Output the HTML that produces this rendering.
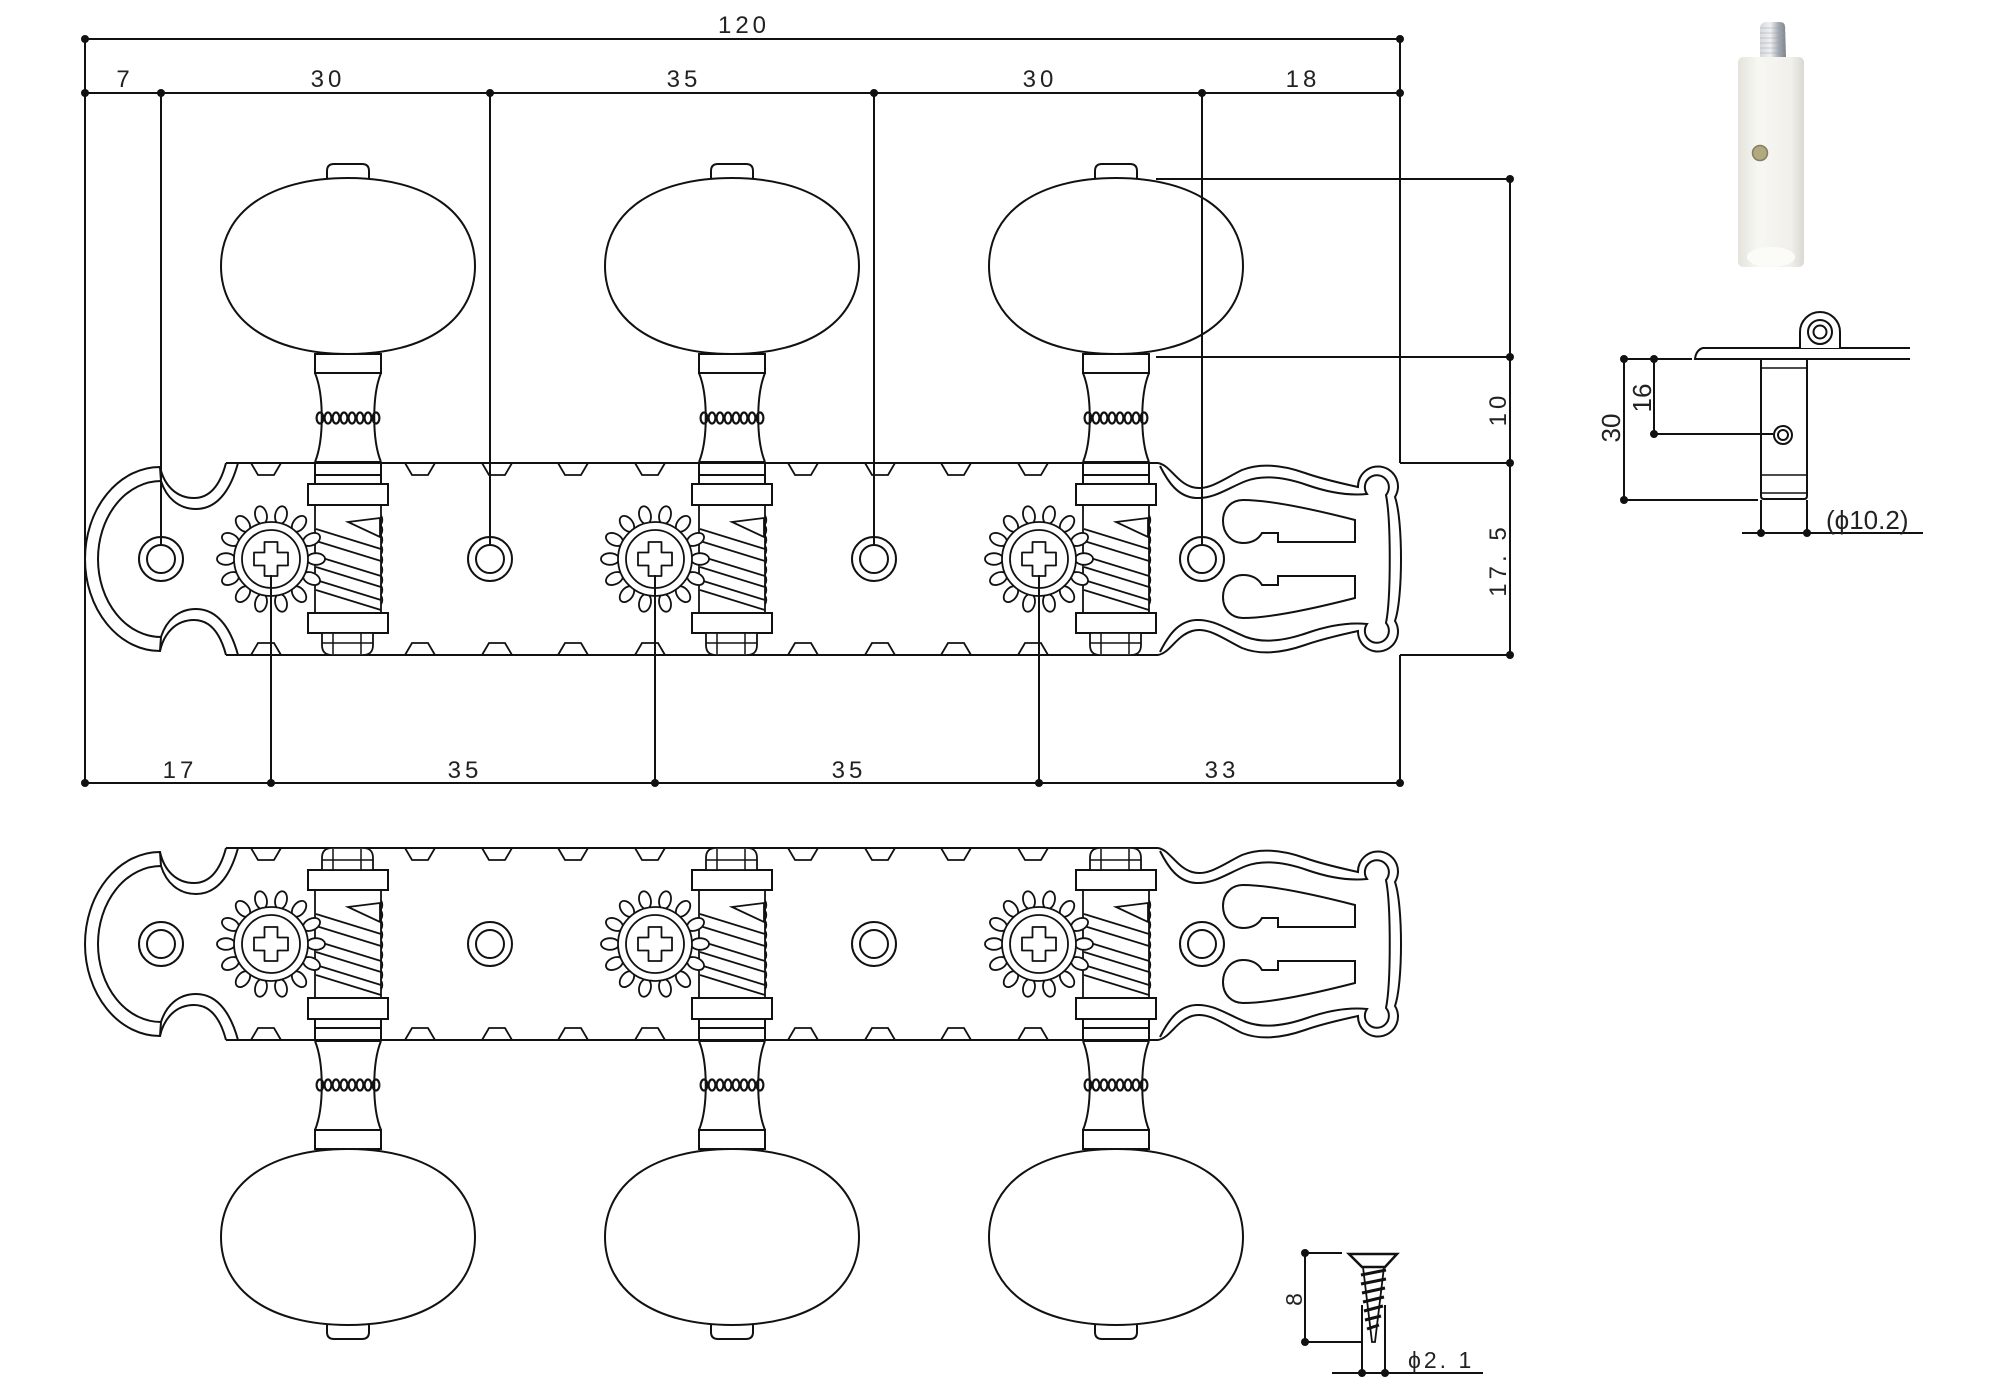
<!DOCTYPE html>
<html><head><meta charset="utf-8"><style>html,body{margin:0;padding:0;background:#fff}svg{display:block}</style></head>
<body>
<svg xmlns="http://www.w3.org/2000/svg" width="2000" height="1400" viewBox="0 0 2000 1400">
<defs>
<linearGradient id="cyl" x1="0" x2="1" y1="0" y2="0"><stop offset="0" stop-color="#e4e3dc"/><stop offset="0.3" stop-color="#f7f7f3"/><stop offset="0.8" stop-color="#f1f0eb"/><stop offset="1" stop-color="#d9d8d1"/></linearGradient>
<linearGradient id="metal" x1="0" x2="1" y1="0" y2="0"><stop offset="0" stop-color="#d5d9dd"/><stop offset="0.4" stop-color="#eef0f2"/><stop offset="0.7" stop-color="#a7adb4"/><stop offset="1" stop-color="#7b828a"/></linearGradient>
<g id="gear" stroke="#111" stroke-width="1.8">
<g fill="#fff">
<ellipse cx="0" cy="-45" rx="5.8" ry="9" transform="rotate(90)"/>
<ellipse cx="0" cy="-45" rx="5.8" ry="9" transform="rotate(115.71)"/>
<ellipse cx="0" cy="-45" rx="5.8" ry="9" transform="rotate(141.43)"/>
<ellipse cx="0" cy="-45" rx="5.8" ry="9" transform="rotate(167.14)"/>
<ellipse cx="0" cy="-45" rx="5.8" ry="9" transform="rotate(192.86)"/>
<ellipse cx="0" cy="-45" rx="5.8" ry="9" transform="rotate(218.57)"/>
<ellipse cx="0" cy="-45" rx="5.8" ry="9" transform="rotate(244.29)"/>
<ellipse cx="0" cy="-45" rx="5.8" ry="9" transform="rotate(270)"/>
<ellipse cx="0" cy="-45" rx="5.8" ry="9" transform="rotate(295.71)"/>
<ellipse cx="0" cy="-45" rx="5.8" ry="9" transform="rotate(321.43)"/>
<ellipse cx="0" cy="-45" rx="5.8" ry="9" transform="rotate(347.14)"/>
<ellipse cx="0" cy="-45" rx="5.8" ry="9" transform="rotate(12.86)"/>
<ellipse cx="0" cy="-45" rx="5.8" ry="9" transform="rotate(38.57)"/>
<ellipse cx="0" cy="-45" rx="5.8" ry="9" transform="rotate(64.29)"/>
</g>
<circle r="37" fill="#fff"/>
<circle r="29" fill="none"/>
<path d="M-6.5,-17 H6.5 V-6.5 H17 V6.5 H6.5 V17 H-6.5 V6.5 H-17 V-6.5 H-6.5 Z" fill="none" stroke-linejoin="round"/>
</g>
<g id="worm" stroke="#111" stroke-width="1.8" fill="none">
<rect x="315" y="505" width="66" height="108" fill="#fff"/>
<path d="M381,515 q3,5 0,10 q3,5 0,10 q3,5 0,10 q3,5 0,10 q3,5 0,10 q3,5 0,10 q3,5 0,10 q3,5 0,10 q3,5 0,10" stroke-width="1.4"/>
<path d="M348,522 L380,518 L380,537 Z"/>
<path d="M316,529 L381,549 M316,541 L381,561 M316,556 L381,576 M316,567 L381,587 M316,580 L381,600 M316,590 L381,610"/>
</g>
<g id="key" stroke="#111" stroke-width="2" fill="none">
<path d="M-21,179 V171 Q-21,164 -14,164 H14 Q21,164 21,171 V179" fill="#fff"/>
<path d="M-127,266 C-127,212 -78,178 0,178 C78,178 127,212 127,266 C127,320 78,354 0,354 C-78,354 -127,320 -127,266 Z" fill="#fff"/>
<rect x="-33" y="354" width="66" height="19" fill="#fff"/>
<path d="M-33,373 C-24,395 -24,440 -33,462 M33,373 C24,395 24,440 33,462"/>
<path d="M-33,462 H33 M-33,462 V484 M33,462 V484 M-33,475 H33"/>
<g stroke-width="2.2">
<ellipse cx="-28" cy="418" rx="3.4" ry="5.5"/><ellipse cx="-20" cy="418" rx="3.4" ry="5.5"/><ellipse cx="-12" cy="418" rx="3.4" ry="5.5"/><ellipse cx="-4" cy="418" rx="3.4" ry="5.5"/><ellipse cx="4" cy="418" rx="3.4" ry="5.5"/><ellipse cx="12" cy="418" rx="3.4" ry="5.5"/><ellipse cx="20" cy="418" rx="3.4" ry="5.5"/><ellipse cx="28" cy="418" rx="3.4" ry="5.5"/>
</g>
<rect x="-40" y="484" width="80" height="21" fill="#fff"/>
<rect x="-40" y="613" width="80" height="20" fill="#fff"/>
<path d="M-26,633 V645 Q-26,655 -16,655 H15 Q25,655 25,645 V633 Z" fill="#fff" stroke-width="1.8"/>
<path d="M-15,633 V654 M13,633 V654 M-26,643 H25" stroke-width="1.5"/>
</g>
<g id="body" stroke="#111" stroke-width="2" fill="none">
<path d="M226,463 H1158 M226,655 H1158"/>
<path d="M226,463 C221,482 212,498 194,498 C176,498 164,485 160,467 A75,92 0 0 0 160,651 C164,633 176,620 194,620 C212,620 221,636 226,655"/>
<path d="M160,467 L161,481 C166,497 178,509 196,509 C220,509 232,485 238,463"/>
<path d="M161,481 A63,78 0 0 0 161,637"/>
<path d="M160,651 L161,637 C166,621 178,609 196,609 C220,609 232,633 238,655"/>
<path d="M1158,463 C1170,465 1176,482 1192,487 C1208,492 1225,478 1242,470 C1262,462 1285,466 1305,473 C1325,480 1345,484 1358,487 A20,20 0 1 1 1395,497 C1403,520 1403,598 1395,621 A20,20 0 1 1 1358,631 C1345,634 1325,638 1305,645 C1285,652 1262,656 1242,648 C1225,640 1208,626 1192,631 C1176,636 1170,653 1158,655"/>
<path d="M1160,466 C1168,482 1178,497 1196,498 C1214,499 1228,488 1246,481 C1265,474 1287,478 1307,485 C1327,492 1347,496 1367,494 A12,12 0 1 1 1386,495 C1391,520 1391,598 1386,623 A12,12 0 1 1 1367,624 C1347,622 1327,626 1307,633 C1287,640 1265,644 1246,637 C1228,630 1214,619 1196,620 C1178,621 1168,636 1160,652"/>
<path d="M1355,520 L1355,542 L1278,542 L1278,533 L1262,533 C1258,540 1251,543 1243,543 C1231,543 1223,533 1223,521 C1223,508 1232,500 1243,500 C1272,500 1320,511 1355,520 Z"/>
<path d="M1355,598 L1355,576 L1278,576 L1278,585 L1262,585 C1258,578 1251,575 1243,575 C1231,575 1223,585 1223,597 C1223,610 1232,618 1243,618 C1272,618 1320,607 1355,598 Z"/>
<path stroke-width="1.8" d="M251,463 L258,475 H274 L281,463 M405,463 L412,475 H428 L435,463 M482,463 L489,475 H505 L512,463 M558,463 L565,475 H581 L588,463 M635,463 L642,475 H658 L665,463 M788,463 L795,475 H811 L818,463 M865,463 L872,475 H888 L895,463 M941,463 L948,475 H964 L971,463 M1018,463 L1025,475 H1041 L1048,463"/>
<path stroke-width="1.8" d="M251,655 L258,643 H274 L281,655 M405,655 L412,643 H428 L435,655 M482,655 L489,643 H505 L512,655 M558,655 L565,643 H581 L588,655 M635,655 L642,643 H658 L665,655 M788,655 L795,643 H811 L818,655 M865,655 L872,643 H888 L895,655 M941,655 L948,643 H964 L971,655 M1018,655 L1025,643 H1041 L1048,655"/>
<circle cx="161" cy="559" r="22"/><circle cx="161" cy="559" r="14"/>
<circle cx="490" cy="559" r="22"/><circle cx="490" cy="559" r="14"/>
<circle cx="874" cy="559" r="22"/><circle cx="874" cy="559" r="14"/>
<circle cx="1202" cy="559" r="22"/><circle cx="1202" cy="559" r="14"/>
</g>
</defs>

<!-- top section -->
<use href="#body"/>
<use href="#worm"/>
<use href="#worm" transform="translate(384,0)"/>
<use href="#worm" transform="translate(768,0)"/>
<use href="#gear" transform="translate(271,559)"/>
<use href="#gear" transform="translate(655,559)"/>
<use href="#gear" transform="translate(1039,559)"/>
<use href="#key" transform="translate(348,0)"/>
<use href="#key" transform="translate(732,0)"/>
<use href="#key" transform="translate(1116,0)"/>

<!-- bottom section -->
<use href="#body" transform="translate(0,385)"/>
<use href="#worm" transform="translate(0,385)"/>
<use href="#worm" transform="translate(384,385)"/>
<use href="#worm" transform="translate(768,385)"/>
<use href="#gear" transform="translate(271,944)"/>
<use href="#gear" transform="translate(655,944)"/>
<use href="#gear" transform="translate(1039,944)"/>
<use href="#key" transform="translate(348,1503) scale(1,-1)"/>
<use href="#key" transform="translate(732,1503) scale(1,-1)"/>
<use href="#key" transform="translate(1116,1503) scale(1,-1)"/>

<!-- dimension lines -->
<g stroke="#111" stroke-width="2" fill="none">
<path d="M85,39 H1400 M85,93 H1400 M85,783 H1400 M85,39 V783 M1400,39 V463 M1400,655 V783"/>
<path d="M161,93 V545 M490,93 V545 M874,93 V545 M1202,93 V545"/>
<path d="M271,575 V783 M655,575 V783 M1039,575 V783"/>
<path d="M1510,179 V655 M1156,179 H1510 M1156,357 H1510 M1400,463 H1510 M1400,655 H1510"/>
</g>
<g fill="#111">
<circle cx="85" cy="39" r="4"/><circle cx="1400" cy="39" r="4"/>
<circle cx="85" cy="93" r="4"/><circle cx="161" cy="93" r="4"/><circle cx="490" cy="93" r="4"/><circle cx="874" cy="93" r="4"/><circle cx="1202" cy="93" r="4"/><circle cx="1400" cy="93" r="4"/>
<circle cx="85" cy="783" r="4"/><circle cx="271" cy="783" r="4"/><circle cx="655" cy="783" r="4"/><circle cx="1039" cy="783" r="4"/><circle cx="1400" cy="783" r="4"/>
<circle cx="1510" cy="179" r="4"/><circle cx="1510" cy="357" r="4"/><circle cx="1510" cy="463" r="4"/><circle cx="1510" cy="655" r="4"/>
</g>
<g font-family="Liberation Sans, sans-serif" font-size="24" letter-spacing="4" fill="#222" text-anchor="middle">
<text x="744" y="33">120</text>
<text x="125" y="87">7</text>
<text x="328" y="87">30</text>
<text x="684" y="87">35</text>
<text x="1040" y="87">30</text>
<text x="1303" y="87">18</text>
<text x="180" y="778">17</text>
<text x="465" y="778">35</text>
<text x="849" y="778">35</text>
<text x="1222" y="778">33</text>
<text transform="translate(1506,409) rotate(-90)">10</text>
<text transform="translate(1506,560) rotate(-90)">17. 5</text>
</g>

<!-- photo -->
<path d="M1760,57 L1760,27 Q1761,22 1766,22 L1780,22 Q1785,22 1785,27 L1786,57 Z" fill="url(#metal)"/>
<path d="M1760,28 H1786 M1760,33 H1786 M1760,38 H1786 M1760,43 H1786 M1760,48 H1786 M1760,53 H1786" stroke="#9aa0a6" stroke-width="0.8" opacity="0.6"/>
<rect x="1738" y="57" width="66" height="210" rx="5" fill="url(#cyl)"/>
<ellipse cx="1771" cy="257" rx="24" ry="10" fill="#fbfbf8"/>
<circle cx="1760" cy="153" r="7.5" fill="#b1a97f" stroke="#857e5f" stroke-width="1.5"/>

<!-- side view -->
<g stroke="#111" stroke-width="2" fill="none">
<path d="M1910,348 H1703 Q1696,350 1695,359 H1910"/>
<path d="M1800,348 V332 A20,20 0 0 1 1840,332 V348" fill="#fff"/>
<circle cx="1820" cy="332" r="12"/><circle cx="1820" cy="332" r="6.5"/>
<path d="M1761,359 V496 Q1761,499 1764,499 H1804 Q1807,499 1807,496 V359"/>
<path d="M1761,368 H1807 M1761,475 H1807 M1761,493 H1807" stroke-width="1.5"/>
<circle cx="1783" cy="435" r="9"/><circle cx="1783" cy="435" r="5"/>
<path d="M1624,359 V500 M1624,359 H1692 M1624,500 H1758 M1654,359 V434 M1654,434 H1773"/>
<path d="M1761,500 V533 M1807,500 V533 M1742,533 H1923"/>
</g>
<g fill="#111">
<circle cx="1624" cy="359" r="4"/><circle cx="1624" cy="500" r="4"/><circle cx="1654" cy="359" r="4"/><circle cx="1654" cy="434" r="4"/><circle cx="1761" cy="533" r="4"/><circle cx="1807" cy="533" r="4"/>
</g>
<g font-family="Liberation Sans, sans-serif" font-size="26" fill="#222">
<text transform="translate(1620,428) rotate(-90)" text-anchor="middle">30</text>
<text transform="translate(1651,398) rotate(-90)" text-anchor="middle">16</text>
<text x="1826" y="529">(ϕ10.2)</text>
</g>

<!-- screw -->
<g stroke="#111" stroke-width="2" fill="none">
<path d="M1305,1253 V1342 M1305,1253 H1342 M1305,1342 H1363 M1362,1305 V1373 M1385,1305 V1373 M1332,1373 H1483"/>
<path d="M1349,1254 H1397 L1385,1267 H1362 Z" fill="#fff" stroke-width="2.5"/>
<path d="M1363,1267 L1372,1342 L1375,1342 L1384,1267" stroke-width="1.8"/>
<path d="M1361,1275 L1386,1270 M1361,1284 L1386,1279 M1362,1293 L1385,1288 M1363,1302 L1384,1297 M1364,1311 L1383,1306 M1365,1320 L1381,1316 M1367,1329 L1379,1325" stroke-width="3"/>
</g>
<g fill="#111">
<circle cx="1305" cy="1253" r="4"/><circle cx="1305" cy="1342" r="4"/><circle cx="1362" cy="1373" r="4"/><circle cx="1385" cy="1373" r="4"/>
</g>
<g font-family="Liberation Sans, sans-serif" font-size="23" fill="#222" letter-spacing="3">
<text transform="translate(1302,1298) rotate(-90)" text-anchor="middle">8</text>
<text x="1408" y="1368">ϕ2. 1</text>
</g>
</svg>
</body></html>
